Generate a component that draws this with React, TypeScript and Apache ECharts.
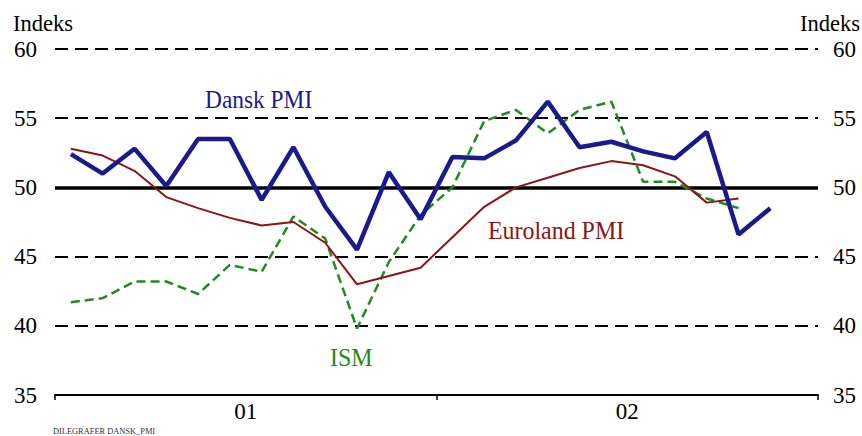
import React, { useEffect, useRef } from "react";
import * as echarts from "echarts";

const months = [
  "jan01","feb01","mar01","apr01","maj01","jun01","jul01","aug01","sep01","okt01","nov01","dec01",
  "jan02","feb02","mar02","apr02","maj02","jun02","jul02","aug02","sep02","okt02","nov02","dec02",
];
const years = ["01", "02"];
const danskPMI = [52.4, 51.0, 52.8, 50.1, 53.5, 53.5, 49.1, 52.9, 48.6, 45.5, 51.1, 47.7,
  52.2, 52.1, 53.4, 56.2, 52.9, 53.3, 52.6, 52.1, 54.0, 46.6, 48.5, null];
const eurolandPMI = [52.8, 52.3, 51.2, 49.3, 48.5, 47.8, 47.25, 47.5, 46.0, 43.0, 43.6, 44.2,
  46.4, 48.6, 50.0, 50.7, 51.4, 51.9, 51.6, 50.8, 48.9, 49.2, null, null];
const ism = [41.7, 42.0, 43.2, 43.2, 42.3, 44.4, 43.9, 47.9, 46.3, 39.8, 44.6, 48.0,
  50.0, 54.8, 55.6, 53.9, 55.6, 56.2, 50.4, 50.4, 49.2, 48.5, null, null];
const yTicks = { min: 35, max: 60, interval: 5 };

const FONT = "'Liberation Serif', 'Times New Roman', serif";

export default function App() {
  const ref = useRef<HTMLDivElement>(null);
  useEffect(() => {
    if (!ref.current) return;
    const chart = echarts.init(ref.current, null, { renderer: "svg" });
    const yAxisBase = {
      type: "value" as const,
      min: yTicks.min,
      max: yTicks.max,
      interval: yTicks.interval,
      axisLine: { show: false },
      axisTick: { show: false },
    };
    const label = (text: string, x: number, y: number, size: number, sx: number, fill: string) => ({
      type: "text",
      x,
      y,
      scaleX: sx,
      style: { text, font: `${size}px ${FONT}`, fill, verticalAlign: "top", align: "left" },
    });
    chart.setOption({
      animation: false,
      backgroundColor: "#ffffff",
      grid: { left: 55, right: 44, top: 49, bottom: 41, containLabel: false },
      xAxis: [
        {
          type: "category",
          data: months,
          boundaryGap: true,
          show: false,
        },
        {
          type: "category",
          data: years,
          boundaryGap: true,
          position: "bottom",
          axisLine: { show: true, lineStyle: { color: "#000", width: 2 } },
          axisTick: { show: true, length: 5, lineStyle: { color: "#000", width: 1.5 } },
          axisLabel: { color: "#000", fontFamily: FONT, fontSize: 23, margin: 5 },
          splitLine: { show: false },
        },
      ],
      yAxis: [
        {
          ...yAxisBase,
          position: "left",
          axisLabel: { color: "#000", fontFamily: FONT, fontSize: 23, margin: 18 },
          splitLine: { show: true, lineStyle: { color: "#000", width: 2, type: [13, 7] } },
        },
        {
          ...yAxisBase,
          position: "right",
          axisLabel: { color: "#000", fontFamily: FONT, fontSize: 23, margin: 15 },
          splitLine: { show: false },
        },
      ],
      series: [
        {
          name: "ISM",
          type: "line",
          data: ism,
          xAxisIndex: 0,
          yAxisIndex: 0,
          symbol: "none",
          lineStyle: { color: "#1e8c1e", width: 2.5, type: [9, 5] },
          z: 3,
          markLine: {
            silent: true,
            symbol: "none",
            label: { show: false },
            lineStyle: { color: "#000", width: 3.5, type: "solid" },
            data: [{ yAxis: 50 }],
            z: 2,
          },
        },
        {
          name: "Euroland PMI",
          type: "line",
          data: eurolandPMI,
          xAxisIndex: 0,
          yAxisIndex: 0,
          symbol: "none",
          lineStyle: { color: "#8b1414", width: 2 },
          z: 4,
        },
        {
          name: "Dansk PMI",
          type: "line",
          data: danskPMI,
          xAxisIndex: 0,
          yAxisIndex: 0,
          symbol: "none",
          lineStyle: { color: "#1a1a8c", width: 4.5 },
          z: 5,
        },
      ],
      graphic: [
        label("Indeks", 13, 11, 24, 0.94, "#000"),
        label("Indeks", 800, 11, 24, 0.94, "#000"),
        label("Dansk PMI", 205, 86, 26, 0.9, "#1a1a8c"),
        label("Euroland PMI", 488, 217, 26, 0.92, "#8b1414"),
        label("ISM", 330, 344, 26, 0.92, "#1e8c1e"),
        { type: "text", left: 53, top: 427, style: { text: "DILEGRAFER DANSK_PMI", font: `8.4px ${FONT}`, fill: "#333" } },
      ],
    });
    return () => chart.dispose();
  }, []);
  return <div ref={ref} style={{ width: 862, height: 436, position: "absolute", left: 0, top: 0 }} />;
}
